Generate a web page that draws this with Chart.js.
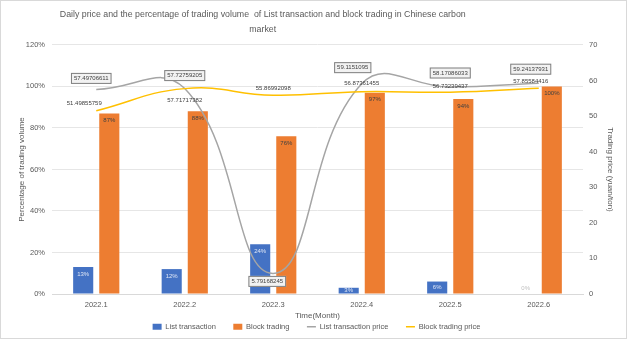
<!DOCTYPE html>
<html>
<head>
<meta charset="utf-8">
<script src="https://cdn.jsdelivr.net/npm/chart.js@4"></script>
<style>
  html, body { margin: 0; padding: 0; background: #fff; }
  #wrap { width: 625px; height: 337px; border: 1px solid #d9d9d9; }
</style>
</head>
<body>
<div id="wrap"><canvas id="chart" width="625" height="337"></canvas></div>
<script>
// chart data
const months = ["2022.1", "2022.2", "2022.3", "2022.4", "2022.5", "2022.6"];
const listShare = [0.13, 0.12, 0.24, 0.03, 0.06, 0.0];
const blockShare = [0.87, 0.88, 0.76, 0.97, 0.94, 1.0];
const listPrice = [57.49706611, 57.72759205, 5.79168245, 59.1151095, 58.17086033, 59.24137931];
const blockPrice = [51.49855759, 57.71717382, 55.86992098, 56.87361455, 56.73239437, 57.85584416];
const pctTicks = [0, 0.2, 0.4, 0.6, 0.8, 1.0, 1.2];

// where each price label sits relative to its point (style only)
const listLabelPos = [[-5, -11], [0, -13], [-6, 8], [-9, -16], [0, -14], [-8, -14]];
const blockLabelPos = [[-12, -7], [0, 12], [0, -7], [0, -8], [0, -6], [-8, -7]];

const FONT = "'Liberation Sans', Arial, sans-serif";
const TEXT = "#595959";
const GAP = "      "; // spacing between legend items
const TITLE_SHIFT = " ".repeat(44); // Excel put the title left of centre

// draws the value labels that Excel puts on the marks
const valueLabels = {
  id: "valueLabels",
  afterDatasetsDraw(chart) {
    const ctx = chart.ctx;
    ctx.save();
    ctx.textAlign = "center";
    ctx.textBaseline = "middle";

    chart.data.datasets.forEach((ds, i) => {
      const meta = chart.getDatasetMeta(i);
      meta.data.forEach((el, j) => {
        const v = ds.data[j];
        if (ds.type === "bar") {
          ctx.font = "6px " + FONT;
          const txt = Math.round(v * 100) + "%";
          const h = el.base - el.y;
          if (v === 0) {
            ctx.fillStyle = "#bfbfbf";
            ctx.fillText(txt, el.x, el.y - 6);
          } else {
            ctx.fillStyle = i === 0 ? "#dfe6f5" : "#404040";
            ctx.fillText(txt, el.x, h < 14 ? el.y + h / 2 : el.y + 7);
          }
        } else if (i === 2) {
          const [dx, dy] = listLabelPos[j];
          const txt = String(v);
          ctx.font = "6px " + FONT;
          const w = ctx.measureText(txt).width + 6;
          const x = el.x + dx, y = el.y + dy;
          ctx.fillStyle = "#f2f2f2";
          ctx.fillRect(x - w / 2, y - 5.5, w, 11);
          ctx.strokeStyle = "#7f7f7f";
          ctx.lineWidth = 1;
          ctx.strokeRect(x - w / 2 + 0.5, y - 5, w - 1, 10);
          ctx.fillStyle = "#404040";
          ctx.fillText(txt, x, y);
        } else {
          const [dx, dy] = blockLabelPos[j];
          ctx.font = "6px " + FONT;
          ctx.fillStyle = "#404040";
          ctx.fillText(String(v), el.x + dx, el.y + dy);
        }
      });
    });
    ctx.restore();
  },
};

const ctx = document.getElementById("chart").getContext("2d");
new Chart(ctx, {
  data: {
    labels: months,
    datasets: [
      {
        type: "bar",
        label: "List transaction",
        data: listShare,
        backgroundColor: "#4472C4",
        yAxisID: "y",
        order: 2,
      },
      {
        type: "bar",
        label: "Block trading",
        data: blockShare,
        backgroundColor: "#ED7D31",
        yAxisID: "y",
        order: 2,
      },
      {
        type: "line",
        label: "List transaction price",
        data: listPrice,
        borderColor: "#A5A5A5",
        backgroundColor: "#A5A5A5",
        borderWidth: 1.5,
        pointRadius: 0,
        tension: 0.45,
        yAxisID: "y1",
        order: 1,
      },
      {
        type: "line",
        label: "Block trading price",
        data: blockPrice,
        borderColor: "#FFC000",
        backgroundColor: "#FFC000",
        borderWidth: 1.5,
        pointRadius: 0,
        tension: 0.45,
        yAxisID: "y1",
        order: 0,
      },
    ],
  },
  options: {
    responsive: false,
    animation: false,
    categoryPercentage: 0.59,
    barPercentage: 0.77,
    layout: { padding: { left: 14, right: 8, top: 4, bottom: 0 } },
    plugins: {
      title: {
        display: true,
        text: [
          "Daily price and the percentage of trading volume  of List transaction and block trading in Chinese carbon" + TITLE_SHIFT,
          "market" + TITLE_SHIFT,
        ],
        color: TEXT,
        font: { family: FONT, size: 8.8, weight: "normal", lineHeight: 1.7 },
        padding: { top: 2, bottom: 8 },
      },
      legend: {
        position: "bottom",
        maxHeight: 20,
        labels: {
          color: TEXT,
          font: { family: FONT, size: 7.5 },
          usePointStyle: true,
          pointStyleWidth: 9,
          boxHeight: 6,
          padding: 5,
          generateLabels(chart) {
            const n = chart.data.datasets.length;
            return chart.data.datasets.map((ds, i) => ({
              text: i < n - 1 ? ds.label + GAP : ds.label,
              fillStyle: ds.backgroundColor,
              strokeStyle: ds.borderColor || ds.backgroundColor,
              lineWidth: ds.type === "line" ? 1.5 : 0,
              pointStyle: ds.type === "line" ? "line" : "rect",
              datasetIndex: i,
              fontColor: TEXT,
            }));
          },
        },
      },
      tooltip: { enabled: false },
    },
    scales: {
      x: {
        afterFit(scale) {
          scale.height = 24;
        },
        grid: { display: false, drawTicks: false },
        border: { color: "#d9d9d9" },
        ticks: { color: TEXT, font: { family: FONT, size: 7.5 }, padding: 6 },
        title: {
          display: true,
          text: "Time(Month)",
          color: TEXT,
          font: { family: FONT, size: 8 },
          padding: { top: 0, bottom: -3 },
        },
      },
      y: {
        position: "left",
        min: 0,
        max: 1.2,
        afterBuildTicks(scale) {
          scale.ticks = pctTicks.map((v) => ({ value: v }));
        },
        afterFit(scale) {
          scale.width = 37;
        },
        grid: { color: "#e6e6e6", drawTicks: false },
        border: { display: false },
        ticks: {
          color: TEXT,
          font: { family: FONT, size: 7.5 },
          padding: 7,
          callback: (v) => Math.round(v * 100) + "%",
        },
        title: {
          display: true,
          text: "Percentage of trading volume",
          color: TEXT,
          font: { family: FONT, size: 8 },
          padding: { top: 2, bottom: 2 },
        },
      },
      y1: {
        position: "right",
        min: 0,
        max: 70,
        afterFit(scale) {
          scale.width = 35;
        },
        grid: { display: false, drawTicks: false },
        border: { display: false },
        ticks: {
          color: TEXT,
          font: { family: FONT, size: 7.5 },
          stepSize: 10,
          padding: 6,
        },
        title: {
          display: true,
          text: "Trading price (yuan/ton)",
          color: TEXT,
          font: { family: FONT, size: 8 },
          padding: { top: 3, bottom: 0 },
        },
      },
    },
  },
  plugins: [valueLabels],
});
</script>
</body>
</html>
